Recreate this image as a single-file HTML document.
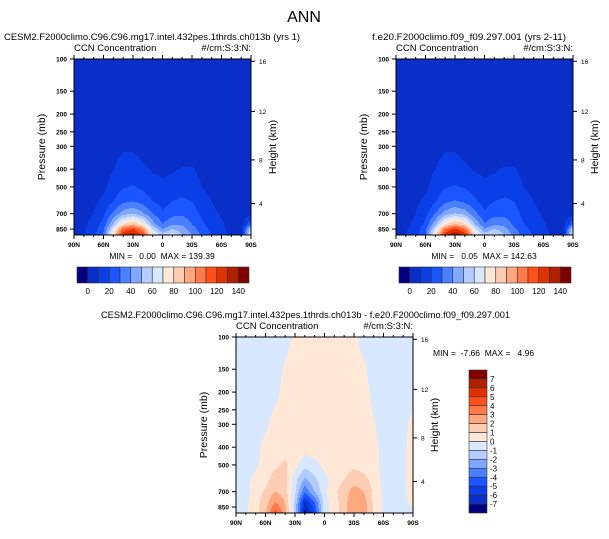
<!DOCTYPE html>
<html><head><meta charset="utf-8"><style>
body{margin:0;background:#fff;}
svg text{font-family:"Liberation Sans",sans-serif;fill:#000;white-space:pre;}
</style></head><body>
<svg id="s" width="609" height="534" viewBox="0 0 609 534" xmlns="http://www.w3.org/2000/svg">
<text x="304" y="22" font-size="16" text-anchor="middle">ANN</text>
<text x="4" y="40" font-size="9.5" textLength="296" lengthAdjust="spacingAndGlyphs">CESM2.F2000climo.C96.C96.mg17.intel.432pes.1thrds.ch013b (yrs 1)</text>
<text x="372" y="40" font-size="9.5" textLength="194" lengthAdjust="spacingAndGlyphs">f.e20.F2000climo.f09_f09.297.001 (yrs 2-11)</text>
<text x="101" y="318" font-size="9.5" textLength="409" lengthAdjust="spacingAndGlyphs">CESM2.F2000climo.C96.C96.mg17.intel.432pes.1thrds.ch013b - f.e20.F2000climo.f09_f09.297.001</text>
<g id="plots"></g>
</svg>
<script>
const lats = [90,80,70,60,50,40,30,20,10,0,-10,-20,-30,-40,-50,-60,-70,-80,-90];
const levsA = [100,200,300,350,400,500,600,700,800,850,916];
const fieldA = [
[5,5,5,5,5,5,5,5,5,5,5,5,5,5,5,5,5,5,5],
[5,5,5,5,5,5,5,5,5,5,5,5,5,5,5,5,5,5,5],
[5,5,5,5,5,8,8,6,5,5,5,5,5,5,5,5,5,5,5],
[5,5,5,5,8,12,12,9,6,5,5,6,7,5,5,5,5,5,5],
[5,5,5,6,10,14,14,12,9,8,9,11,11,7,5,5,5,5,5],
[5,5,6,8,14,19,21,18,14,12,13,15,15,10,7,5,5,5,5],
[5,6,8,12,20,28,30,26,20,16,20,22,20,14,10,7,5,5,5],
[5,7,10,18,32,45,50,42,30,22,27,28,25,18,12,9,6,5,6],
[6,8,13,24,50,80,90,75,45,30,38,38,30,22,15,11,7,5,30],
[6,9,15,28,65,110,120,100,60,40,50,45,35,25,17,12,7,5,60],
[7,10,17,32,80,130,138,120,75,55,65,50,40,28,19,13,8,6,70]];
const fieldB = [
[5,5,5,5,5,5,5,5,5,5,5,5,5,5,5,5,5,5,5],
[5,5,5,5,5,5,5,5,5,5,5,5,5,5,5,5,5,5,5],
[5,5,5,5,5,8,8,6,5,5,5,5,5,5,5,5,5,5,5],
[5,5,5,5,8,12,12,9,6,5,5,6,7,5,5,5,5,5,5],
[5,5,5,6,10,14,14,12,9,8,9,11,11,7,5,5,5,5,5],
[5,5,6,8,14,19,21,19,15,12,13,15,15,10,7,5,5,5,5],
[5,6,8,12,19,28,31,28,22,16,20,22,20,14,10,7,5,5,5],
[5,7,10,17,30,44,51,46,33,22,27,27,24,17,12,9,6,5,6],
[6,8,12,23,47,78,92,82,50,31,38,37,28,20,15,11,7,5,30],
[6,9,14,27,61,107,123,108,66,41,50,44,33,23,17,12,7,5,60],
[7,10,16,30,76,127,141,128,81,56,65,49,37,26,19,13,8,6,70]];
const levsD = [100,150,200,300,400,500,600,700,800,916];
const fieldD = [
[-.5,-.5,-.5,-.5,-.5,-.5,.3,.5,.5,.5,.5,.5,.3,-.5,-.5,-.5,-.5,-.5,-.5],
[-.5,-.5,-.5,-.5,-.5,.2,.5,.5,.5,.5,.5,.5,.5,.2,-.5,-.5,-.5,-.5,-.5],
[-.5,-.5,-.5,-.5,-.3,.4,.5,.5,.5,.5,.5,.5,.5,.4,-.3,-.5,-.5,-.5,-.5],
[-.5,-.5,-.5,-.2,.4,.5,.5,.5,.5,.5,.5,.5,.5,.5,.1,-.5,-.5,-.3,.3],
[-.5,-.5,-.3,.3,.5,.5,.5,.5,.5,.5,.5,.5,.5,.5,.3,-.3,-.5,-.2,.4],
[-.5,-.5,-.2,.4,.8,1.2,.4,-.6,-.3,.3,.5,.6,.8,.6,.4,-.3,-.5,-.2,.4],
[-.5,-.3,.3,.6,1.5,1.3,-.6,-2.2,-1.2,-.3,.5,1,1.5,1.3,.6,-.3,-.5,-.2,.4],
[-.5,-.3,.4,1.2,2,1.5,-.8,-3.8,-2,-.3,.8,1.5,2.5,2,.8,-.2,-.5,-.2,.4],
[-.5,-.2,.6,1.5,3,2,-1.2,-6.2,-4,-.5,.6,1.5,3,2.5,.8,-.2,-.5,-.3,.3],
[-.5,-.2,.7,1.8,4.5,2.5,-1.2,-7.5,-5,-.5,.5,1.5,3,2.5,.8,-.2,-.5,-.5,-.5]];
const boundsA = [0,10,20,30,40,50,60,70,80,90,100,110,120,130,140];
const boundsD = [-7,-6,-5,-4,-3,-2,-1,0,1,2,3,4,5,6,7];
const barLabelsA = ["0","20","40","60","80","100","120","140"];
const barLabelsD = ["7","6","5","4","3","2","1","0","-1","-2","-3","-4","-5","-6","-7"];
const pTicks = [100,150,200,250,300,400,500,700,850];
const zTicks = [4,8,12,16];
const xTickLabels = ["90N","60N","30N","0","30S","60S","90S"];
const colors = ['#000080','#0a2ec8','#0a3ee6','#1a55ff','#4a80ff','#80a8ff','#b4ccff','#d8e8ff','#ffe8d8','#ffccb4','#ffa880','#ff7a4a','#ff501a','#e03200','#b02000','#800000'];

const NS="http://www.w3.org/2000/svg";
const root=document.getElementById('plots');
function mk(tag,attrs,parent){const e=document.createElementNS(NS,tag);for(const k in attrs)e.setAttribute(k,attrs[k]);(parent||root).appendChild(e);return e;}
function txt(x,y,s,size,anchor,parent){const t=mk('text',{x:x,y:y,'font-size':size,'text-anchor':anchor||'start'},parent);t.textContent=s;return t;}
function zToP(z){ if(z<=11) return 1013.25*Math.pow(1-2.25577e-5*z*1000,5.25588); return 226.32*Math.exp(-(z-11)/6.3416);}
function binOf(v,b){let i=0;while(i<b.length&&v>=b[i])i++;return i;}

function sample(field,levs,lat,p){
  const lp=Math.log(p);
  let r=0;while(r<levs.length-2&&lp>Math.log(levs[r+1]))r++;
  let tr=(lp-Math.log(levs[r]))/(Math.log(levs[r+1])-Math.log(levs[r]));tr=Math.max(0,Math.min(1,tr));
  let c=Math.min(17,Math.max(0,Math.floor((90-lat)/10)));
  let tc=((90-lat)-c*10)/10;tc=Math.max(0,Math.min(1,tc));
  const a=field[r][c]*(1-tc)+field[r][c+1]*tc, b=field[r+1][c]*(1-tc)+field[r+1][c+1]*tc;
  return a*(1-tr)+b*tr;
}

function plot(name,x0,y0,field,levs,bounds,minmaxStr,mmx,mmy,mmAnchor){
  const w=177,h=176;
  const g=mk('g',{});
  
  
  const yOf=p=>y0+(Math.log10(p)-2)*183;
  const xOf=lat=>x0+(90-lat)/180*w;
  const pOfY=y=>Math.pow(10,2+(y-y0)/183);
  const latOfX=x=>90-(x-x0)/w*180;
  const fg=mk('g',{},g);
  
  
  for(let yy=0;yy<h;yy++){
    const p=pOfY(y0+yy+0.5);
    let start=0,cur=binOf(sample(field,levs,latOfX(x0+0.5),p),bounds);
    for(let xx=1;xx<=w;xx++){
      const b= xx<w? binOf(sample(field,levs,latOfX(x0+xx+0.5),p),bounds) : -1;
      if(b!==cur){
        const r=mk('rect',{x:x0+start,y:y0+yy,width:xx-start,height:1.05,fill:colors[cur]},fg);
        
        
        start=xx;cur=b;
      }
    }
  }
  const fr=mk('rect',{x:x0,y:y0,width:w,height:h,fill:'none',stroke:'#000','stroke-width':1},g);
  
  
  pTicks.forEach(p=>{const y=yOf(p);mk('line',{x1:x0-4,x2:x0,y1:y,y2:y,stroke:'#000'},g);
    const t=txt(x0-7,y+2.5,String(p),6.5,'end',g);t.setAttribute('font-weight','bold');});
  zTicks.forEach(z=>{const y=yOf(zToP(z));mk('line',{x1:x0+w,x2:x0+w+4,y1:y,y2:y,stroke:'#000'},g);
    txt(x0+w+8,y+2.5,String(z),6.5,'start',g);});
  for(let lat=90;lat>=-90;lat-=10){const x=xOf(lat);const maj=lat%30===0;
    mk('line',{x1:x,x2:x,y1:y0+h,y2:y0+h+(maj?4:2),stroke:'#000'},g);
    mk('line',{x1:x,x2:x,y1:y0,y2:y0-(maj?4:2),stroke:'#000'},g);}
  xTickLabels.forEach((s,i)=>{const t=txt(x0+i*w/6,y0+h+12,s,6.5,'middle',g);t.setAttribute('font-weight','bold');});
  const t1=txt(x0,y0-8,'CCN Concentration',9.5,'start',g);
  const t2=txt(x0+w,y0-8,'#/cm:S:3:N:',9.5,'end',g);
  const ya=txt(0,0,'Pressure (mb)',10.5,'middle',g);ya.setAttribute('transform',`translate(${x0-29},${y0+h/2}) rotate(-90)`);
  
  const yb=txt(0,0,'Height (km)',10.5,'middle',g);yb.setAttribute('transform',`translate(${x0+w+25},${y0+h/2}) rotate(-90)`);
  
  const mm=txt(mmx,mmy,minmaxStr,8.5,mmAnchor,g);
}
plot('left-panel',74,59,fieldA,levsA,boundsA,'MIN =   0.00  MAX = 139.39',162,259,'middle');
plot('right-panel',396,59,fieldB,levsA,boundsA,'MIN =   0.05  MAX = 142.63',484,259,'middle');
plot('diff-panel',236,337,fieldD,levsD,boundsD,'MIN =  -7.66  MAX =   4.96',433,356,'start');

function hbar(name,x0,y0){
  const g=mk('g',{});
  const bw=172/16;
  colors.forEach((c,i)=>{const r=mk('rect',{x:x0+i*bw,y:y0,width:bw,height:16,fill:c,stroke:'#333','stroke-width':0.6},g);
    });
  barLabelsA.forEach((s,i)=>txt(x0+(1+2*i)*bw,y0+27,s,8,'middle',g));
}
hbar('left-colorbar',77,267);
hbar('right-colorbar',399,267);
(function(){
  const g=mk('g',{});
  const x0=469,y0=370,bh=143/16;
  colors.slice().reverse().forEach((c,i)=>{const r=mk('rect',{x:x0,y:y0+i*bh,width:18,height:bh,fill:c,stroke:'#333','stroke-width':0.6},g);
    });
  barLabelsD.forEach((s,i)=>txt(x0+21,y0+(i+1)*bh+3,s,8,'start',g));
})();
</script>
</body></html>
